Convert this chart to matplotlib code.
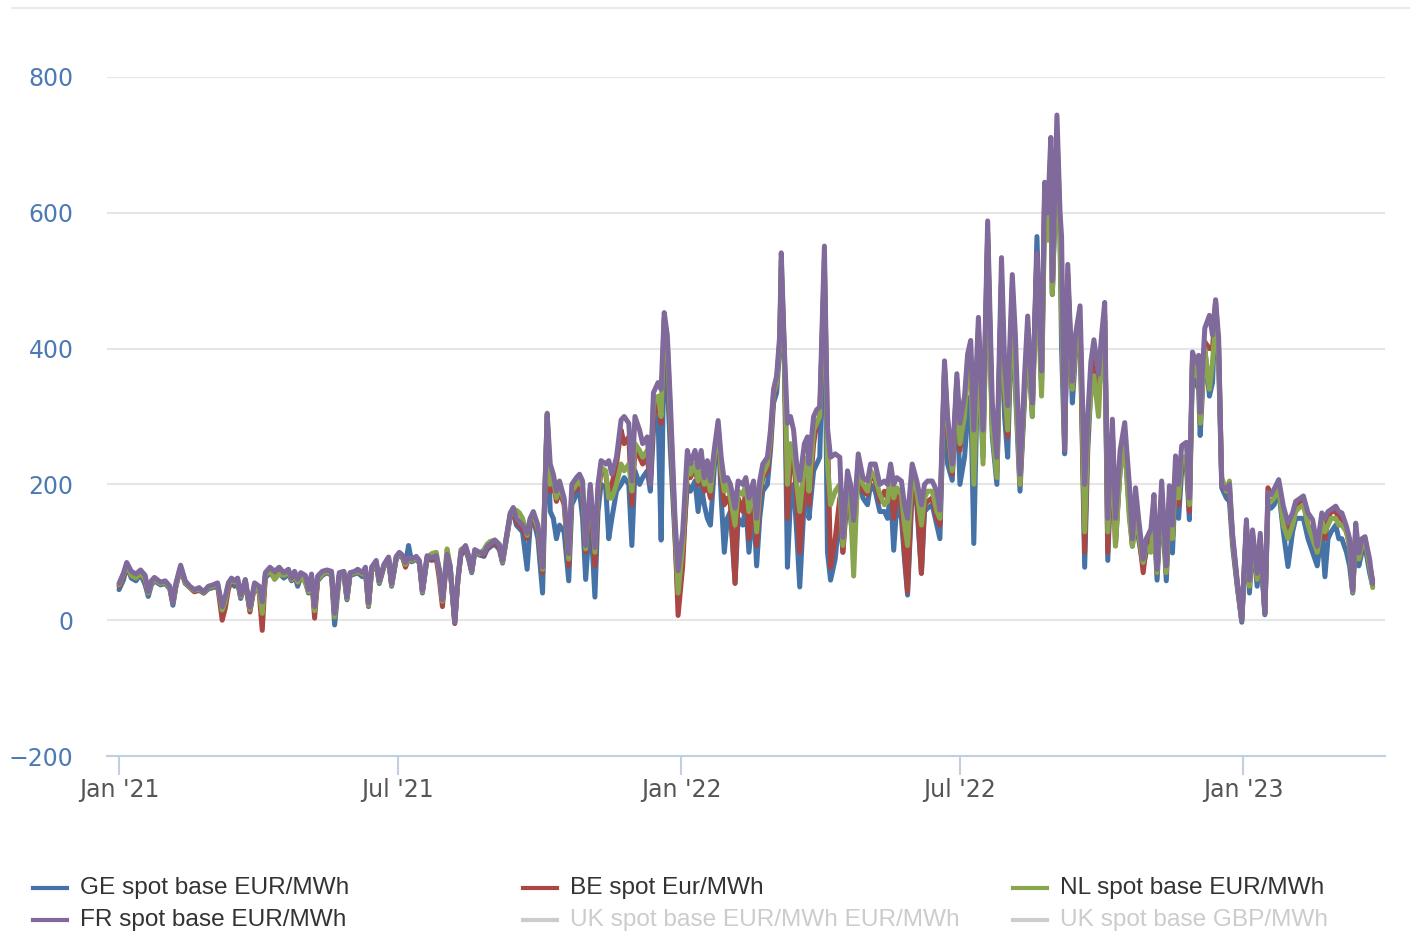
import matplotlib
matplotlib.use("Agg")
import matplotlib.pyplot as plt
from matplotlib.lines import Line2D
import pandas as pd

# days since 1 Jan 2021 (irregular steps)
day_offsets = [
    0, 3, 5, 8, 11, 14, 17, 19, 21, 23,
    27, 30, 33, 35, 37, 40, 43, 46, 49, 52,
    55, 58, 61, 64, 67, 69, 71, 73, 75, 77,
    79, 82, 85, 88, 91, 93, 95, 98, 101, 104,
    107, 110, 112, 114, 116, 118, 121, 123, 125, 127,
    129, 132, 135, 138, 140, 143, 146, 148, 150, 153,
    155, 158, 160, 162, 164, 167, 169, 172, 175, 177,
    180, 182, 184, 186, 188, 190, 193, 195, 197, 200,
    203, 206, 208, 210, 213, 215, 218, 220, 222, 225,
    227, 229, 231, 234, 237, 239, 241, 244, 247, 249,
    252, 254, 256, 258, 260, 262, 265, 267, 269, 272,
    275, 278, 280, 282, 284, 286, 289, 292, 294, 297,
    299, 301, 303, 306, 309, 311, 313, 316, 318, 320,
    323, 326, 328, 331, 333, 335, 338, 340, 343, 345,
    347, 350, 352, 354, 356, 358, 361, 363, 366, 369,
    371, 374, 376, 378, 380, 382, 384, 387, 389, 391,
    393, 395, 397, 400, 402, 405, 407, 409, 412, 414,
    416, 418, 421, 423, 425, 427, 429, 430, 432, 434,
    436, 438, 440, 442, 445, 447, 448, 451, 453, 455,
    458, 460, 462, 465, 468, 470, 473, 475, 477, 480,
    483, 486, 488, 491, 494, 497, 499, 501, 503, 505,
    508, 510, 512, 515, 518, 521, 523, 525, 528, 531,
    533, 536, 538, 541, 544, 546, 549, 551, 553, 555,
    558, 561, 564, 567, 570, 573, 575, 577, 580, 582,
    585, 588, 590, 593, 596, 599, 601, 603, 605, 606,
    609, 611, 612, 614, 616, 619, 621, 624, 627, 629,
    631, 633, 636, 638, 640, 642, 645, 647, 650, 653,
    656, 658, 660, 662, 665, 667, 670, 672, 674, 677,
    680, 682, 684, 686, 688, 690, 693, 695, 697, 699,
    701, 702, 705, 708, 710, 712, 714, 716, 719, 721,
    723, 726, 729, 732, 734, 736, 739, 741, 744, 746,
    748, 750, 753, 756, 759, 762, 764, 766, 769, 772,
    775, 778, 781, 783, 785, 787, 790, 792, 794, 797,
    799, 801, 803, 805, 807, 809, 812, 814,
]

fr = [
    54, 70, 85, 72, 68, 74, 66, 42, 58, 63,
    56, 58, 50, 25, 55, 81, 58, 50, 45, 48,
    42, 50, 52, 55, 20, 35, 55, 62, 58, 62,
    37, 60, 19, 55, 50, 27, 70, 78, 72, 78,
    70, 75, 62, 72, 60, 70, 66, 45, 68, 20,
    65, 72, 74, 72, 10, 70, 72, 34, 70, 72,
    75, 70, 78, 25, 78, 88, 58, 82, 93, 54,
    94, 100, 96, 85, 92, 90, 94, 88, 44, 95,
    92, 95, 75, 30, 97, 80, -3, 60, 100, 110,
    95, 73, 104, 100, 98, 108, 112, 118, 110, 88,
    130, 158, 166, 150, 145, 140, 128, 150, 160, 140,
    78, 304, 230, 215, 190, 205, 180, 98, 200, 210,
    215, 205, 110, 200, 107, 200, 235, 230, 235, 215,
    240, 295, 300, 290, 205, 300, 280, 260, 270, 200,
    335, 350, 340, 453, 420, 320, 150, 73, 130, 250,
    230, 250, 225, 250, 210, 235, 205, 260, 294, 240,
    205, 210, 200, 165, 205, 200, 210, 180, 205, 150,
    205, 230, 240, 280, 340, 360, 420, 541, 400, 290,
    300, 280, 230, 206, 260, 270, 230, 300, 310, 314,
    551, 283, 240, 245, 240, 122, 220, 200, 147, 245,
    210, 205, 230, 230, 200, 205, 200, 230, 200, 210,
    205, 170, 150, 230, 205, 170, 200, 205, 205, 190,
    162, 382, 300, 230, 363, 290, 330, 392, 412, 280,
    446, 280, 588, 320, 240, 534, 380, 316, 509, 420,
    215, 362, 448, 320, 540, 367, 645, 600, 711, 500,
    744, 600, 565, 250, 524, 352, 420, 463, 200, 300,
    380, 413, 362, 420, 468, 150, 296, 150, 250, 291,
    200, 120, 195, 150, 90, 120, 134, 185, 75, 205,
    80, 198, 140, 242, 200, 257, 262, 180, 395, 380,
    390, 306, 430, 449, 420, 472, 415, 198, 193, 200,
    128, 59, 0, 148, 59, 133, 69, 128, 10, 188,
    185, 193, 207, 168, 143, 158, 175, 178, 183, 158,
    148, 109, 158, 150, 160, 163, 168, 160, 158, 138,
    120, 44, 143, 99, 120, 123, 90, 54,
]

ge = [
    45, 60, 80, 62, 58, 68, 52, 35, 52, 58,
    52, 54, 46, 22, 50, 76, 54, 48, 42, 44,
    40, 46, 48, 50, 18, 30, 50, 58, 50, 56,
    32, 55, 15, 50, 45, 10, 62, 70, 62, 70,
    62, 68, 58, 66, 50, 64, 58, 40, 62, 15,
    58, 66, 70, 66, -7, 64, 68, 30, 66, 68,
    70, 64, 72, 20, 72, 82, 54, 78, 90, 50,
    90, 96, 92, 82, 110, 86, 90, 84, 40, 90,
    88, 90, 72, 28, 94, 76, -3, 58, 96, 104,
    90, 70, 100, 96, 94, 104, 108, 112, 104, 84,
    125, 152, 160, 140, 135, 130, 75, 140, 150, 120,
    40, 300, 160, 150, 120, 140, 130, 58, 170, 185,
    190, 150, 60, 160, 34, 160, 200, 195, 120, 150,
    190, 200, 210, 200, 110, 220, 200, 210, 220, 190,
    280, 300, 118, 430, 350, 250, 120, 30, 100, 200,
    190, 205, 160, 200, 170, 150, 140, 240, 280, 180,
    100, 150, 160, 55, 150, 140, 170, 100, 170, 80,
    150, 190, 200, 250, 320, 335, 400, 500, 380, 78,
    180, 200, 130, 49, 180, 200, 150, 220, 230, 240,
    500, 100, 59, 90, 160, 100, 190, 150, 110, 220,
    180, 170, 200, 190, 160, 160, 150, 190, 103, 170,
    150, 90, 37, 190, 170, 69, 160, 165, 170, 140,
    120, 360, 230, 206, 340, 200, 240, 300, 330, 113,
    420, 240, 560, 270, 200, 500, 300, 240, 470, 340,
    190, 330, 420, 300, 565, 340, 620, 560, 690, 480,
    700, 560, 400, 245, 500, 320, 390, 430, 78, 250,
    340, 380, 330, 380, 440, 88, 270, 120, 220, 260,
    160, 109, 160, 120, 80, 100, 110, 150, 59, 180,
    58, 160, 99, 210, 150, 220, 230, 148, 380, 350,
    340, 272, 400, 330, 350, 460, 380, 195, 180, 175,
    110, 50, -3, 130, 40, 120, 50, 110, 8, 170,
    165, 170, 190, 130, 79, 130, 150, 150, 150, 120,
    100, 80, 130, 64, 120, 130, 140, 120, 120, 100,
    80, 40, 120, 80, 100, 110, 70, 50,
]

be = [
    50, 65, 82, 66, 62, 70, 58, 40, 55, 60,
    54, 56, 48, 25, 52, 78, 56, 48, 42, 46,
    40, 48, 50, 52, 0, 18, 45, 60, 55, 58,
    35, 58, 12, 52, 40, -15, 65, 74, 66, 72,
    66, 70, 60, 68, 55, 66, 60, 42, 64, 3,
    60, 68, 72, 68, 5, 66, 70, 32, 68, 70,
    72, 68, 74, 22, 74, 84, 56, 80, 92, 52,
    92, 98, 94, 78, 90, 88, 92, 86, 42, 92,
    90, 92, 60, 20, 95, 78, -5, 58, 98, 106,
    92, 72, 102, 98, 96, 106, 110, 116, 106, 86,
    128, 155, 162, 145, 140, 135, 120, 145, 155, 130,
    70, 300, 190, 200, 175, 190, 170, 80, 185, 195,
    200, 185, 100, 190, 80, 180, 220, 215, 180, 200,
    230, 280, 260, 270, 170, 250, 240, 230, 240, 200,
    300, 320, 290, 440, 400, 290, 130, 7, 80, 220,
    210, 225, 200, 230, 190, 200, 180, 250, 285, 210,
    170, 180, 170, 54, 180, 160, 190, 120, 190, 110,
    180, 210, 220, 260, 330, 350, 410, 520, 390, 150,
    240, 240, 180, 100, 200, 230, 170, 260, 290, 300,
    520, 280, 78, 120, 180, 100, 200, 160, 120, 230,
    190, 185, 215, 205, 175, 190, 180, 210, 150, 190,
    170, 100, 42, 210, 180, 69, 170, 175, 180, 150,
    140, 370, 280, 215, 350, 250, 310, 370, 390, 230,
    430, 260, 570, 290, 220, 500, 340, 270, 490, 380,
    200, 340, 430, 310, 540, 350, 630, 580, 690, 480,
    720, 580, 500, 250, 510, 340, 400, 440, 100, 270,
    360, 390, 340, 400, 450, 100, 280, 110, 230, 270,
    170, 110, 170, 130, 70, 110, 120, 160, 70, 190,
    70, 180, 120, 220, 170, 240, 240, 160, 385, 370,
    370, 290, 410, 400, 400, 470, 400, 200, 190, 190,
    120, 55, 0, 140, 50, 125, 60, 120, 10, 195,
    185, 190, 200, 150, 130, 145, 165, 170, 175, 140,
    130, 100, 150, 120, 150, 160, 160, 150, 150, 130,
    110, 42, 130, 90, 110, 120, 80, 58,
]

nl = [
    52, 68, 83, 66, 62, 70, 60, 40, 55, 60,
    54, 56, 48, 25, 52, 78, 56, 48, 44, 46,
    41, 48, 50, 54, 15, 28, 52, 60, 56, 60,
    35, 58, 16, 52, 42, 10, 66, 74, 60, 68,
    66, 70, 60, 68, 56, 66, 55, 42, 64, 14,
    60, 68, 72, 68, 5, 66, 70, 32, 68, 70,
    72, 68, 74, 22, 74, 84, 56, 80, 92, 52,
    92, 98, 94, 82, 90, 88, 92, 86, 42, 92,
    98, 100, 70, 28, 105, 80, -2, 60, 104, 108,
    94, 72, 102, 98, 104, 112, 116, 118, 112, 86,
    128, 155, 162, 162, 158, 150, 125, 150, 155, 135,
    75, 305, 200, 210, 180, 200, 175, 90, 190, 200,
    205, 195, 105, 195, 100, 190, 225, 220, 180, 180,
    200, 230, 220, 230, 190, 260, 250, 240, 250, 220,
    320, 330, 300, 445, 410, 300, 140, 40, 110, 230,
    215, 230, 205, 235, 200, 210, 190, 250, 285, 220,
    190, 200, 180, 140, 190, 185, 200, 160, 195, 130,
    190, 215, 230, 270, 335, 350, 410, 530, 390, 200,
    260, 250, 200, 160, 230, 240, 190, 280, 290, 300,
    530, 230, 170, 190, 200, 110, 205, 170, 65, 235,
    200, 190, 220, 210, 185, 170, 175, 215, 180, 195,
    185, 140, 110, 215, 190, 140, 180, 190, 190, 160,
    150, 370, 290, 220, 355, 260, 300, 380, 380, 200,
    420, 230, 560, 280, 210, 500, 340, 280, 480, 350,
    200, 340, 420, 300, 520, 330, 600, 560, 680, 480,
    700, 560, 450, 260, 500, 340, 400, 440, 130, 280,
    330, 360, 300, 400, 440, 130, 260, 109, 220, 260,
    150, 109, 150, 130, 85, 110, 100, 150, 70, 180,
    70, 170, 120, 220, 180, 240, 240, 170, 385, 360,
    360, 290, 400, 340, 380, 440, 390, 210, 190, 205,
    120, 55, 0, 140, 50, 125, 60, 120, 10, 175,
    175, 180, 195, 140, 120, 140, 160, 165, 170, 140,
    120, 100, 145, 130, 140, 150, 150, 140, 140, 130,
    110, 42, 130, 90, 110, 120, 80, 48,
]

series_names = ["GE spot base EUR/MWh", "BE spot Eur/MWh", "NL spot base EUR/MWh",
                "FR spot base EUR/MWh", "UK spot base EUR/MWh EUR/MWh", "UK spot base GBP/MWh"]
series_colors = ["#4572A7", "#AA4643", "#89A54E", "#80699B", "#cccccc", "#cccccc"]
tick_dates = ["2021-01-01", "2021-07-01", "2022-01-01", "2022-07-01", "2023-01-01"]
tick_labels = ["Jan '21", "Jul '21", "Jan '22", "Jul '22", "Jan '23"]

for name, vals in [("fr", fr), ("ge", ge), ("be", be), ("nl", nl)]:
    if len(vals) != len(day_offsets):
        raise SystemExit(f"{name}: {len(vals)} values vs {len(day_offsets)} days")

start = pd.Timestamp("2021-01-01")
dates = start + pd.to_timedelta(day_offsets, unit="D")

W, H = 1410, 936
fig = plt.figure(figsize=(W / 100, H / 100), dpi=100)
ax = fig.add_axes([107 / W, 1 - 756 / H, (1385 - 107) / W, (756 - 77) / H])

for vals, color in zip([ge, be, nl, fr], series_colors[:4]):
    ax.plot(dates, vals, color=color, lw=3.6, solid_joinstyle="round",
            solid_capstyle="round")

ax.set_ylim(-200, 800)
ax.set_xlim(start - pd.Timedelta(days=7.8), start + pd.Timedelta(days=822))
ax.set_yticks([-200, 0, 200, 400, 600, 800])
ax.set_yticklabels(["\u2212200", "0", "200", "400", "600", "800"])
ax.yaxis.grid(True, color="#e6e6e6", lw=1.5)
ax.set_axisbelow(True)
for s in ["left", "top", "right"]:
    ax.spines[s].set_visible(False)
ax.spines["bottom"].set_color("#c0d0e0")
ax.spines["bottom"].set_linewidth(1.5)

ax.set_xticks(pd.to_datetime(tick_dates))
ax.set_xticklabels(tick_labels)
ax.tick_params(axis="x", length=14, width=1.5, color="#c0d0e0", pad=2,
               labelsize=17, labelcolor="#555555")
ax.tick_params(axis="y", length=0, pad=24, labelsize=17, labelcolor="#4d7ab5")

# top separator line
fig.add_artist(Line2D([12 / W, 1], [1 - 8 / H, 1 - 8 / H], color="#e3e8ee", lw=1.2))

# legend laid out as in the reference: 3 columns, 2 rows
col_x = [33, 523, 1013]
row_y = [888, 920]
for i, (name, color) in enumerate(zip(series_names, series_colors)):
    cx = col_x[i % 3]
    cy = row_y[i // 3]
    fig.add_artist(Line2D([cx / W, (cx + 34) / W], [1 - cy / H, 1 - cy / H],
                          color=color, lw=3))
    fig.text((cx + 47) / W, 1 - cy / H, name, fontsize=17.6,
             family="Liberation Sans", va="center", ha="left",
             color="#333333" if i < 4 else "#cccccc")

fig.savefig("out.png", dpi=100)
